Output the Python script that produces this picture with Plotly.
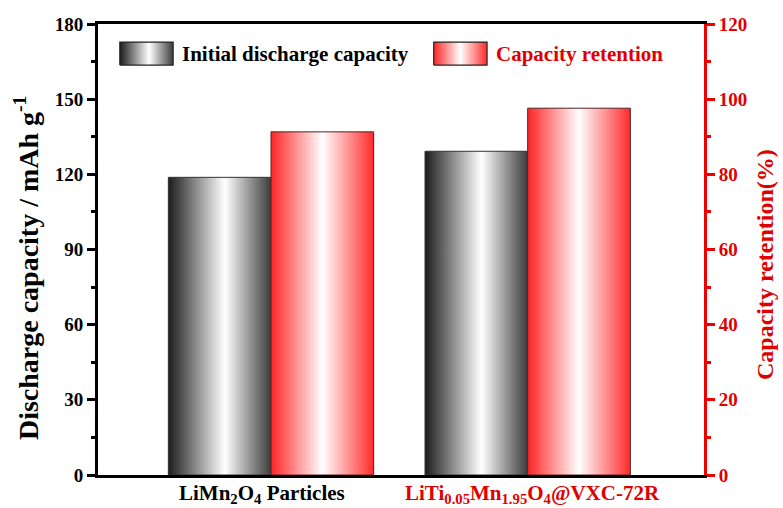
import plotly.graph_objects as go

categories = ["LiMn<sub>2</sub>O<sub>4</sub> Particles",
              "LiTi<sub>0.05</sub>Mn<sub>1.95</sub>O<sub>4</sub>@VXC-72R"]
category_colors = ["black", "#e00000"]
initial_capacity = [118.8, 129.2]      # mAh g-1 (left axis)
capacity_retention = [91.3, 97.6]      # % (right axis)
left_ticks = [0, 30, 60, 90, 120, 150, 180]
right_ticks = [0, 20, 40, 60, 80, 100, 120]

RED = "#ee0000"
RED_TXT = "#e00000"
FONT = "Liberation Serif"
W = 0.40

black_scale = [[0, "#1c1c1c"], [0.55, "#ffffff"], [1, "#3c3c3c"]]
red_scale = [[0, "#ff2424"], [0.5, "#ffffff"], [1, "#ff2a2a"]]

fig = go.Figure()

for i, (cap, ret) in enumerate(zip(initial_capacity, capacity_retention)):
    fig.add_trace(go.Scatter(
        x=[i - W, i - W, i, i, i - W], y=[0, cap, cap, 0, 0],
        mode="lines", fill="toself",
        fillgradient=dict(type="horizontal", colorscale=black_scale),
        line=dict(color="#333333", width=1),
        showlegend=False, hoverinfo="skip"))
    fig.add_trace(go.Scatter(
        x=[i, i, i + W, i + W, i], y=[0, ret, ret, 0, 0],
        mode="lines", fill="toself",
        fillgradient=dict(type="horizontal", colorscale=red_scale),
        line=dict(color="#552222", width=1),
        yaxis="y2", showlegend=False, hoverinfo="skip"))

# legend swatches (in plot-area fraction coordinates)
legend_items = [("Initial discharge capacity", black_scale, "black", 0.036),
                ("Capacity retention", red_scale, RED_TXT, 0.554)]
for name, scale, tcolor, x0 in legend_items:
    x1 = x0 + 0.088
    fig.add_trace(go.Scatter(
        x=[x0, x0, x1, x1, x0], y=[0.909, 0.960, 0.960, 0.909, 0.909],
        mode="lines", fill="toself",
        fillgradient=dict(type="horizontal", colorscale=scale),
        line=dict(color="#222222", width=1.2),
        xaxis="x3", yaxis="y3", showlegend=False, hoverinfo="skip"))
    fig.add_annotation(x=x1 + 0.011, y=0.9345, xref="paper", yref="paper",
                       text="<b>%s</b>" % name, showarrow=False,
                       xanchor="left", yanchor="middle",
                       font=dict(family=FONT, size=21, color=tcolor))

# category labels under the axis
label_shift = [-9, 5]
for i, (lab, col) in enumerate(zip(categories, category_colors)):
    fig.add_annotation(x=i, y=0, xref="x", yref="paper", text="<b>%s</b>" % lab,
                       showarrow=False, xanchor="center", yanchor="top",
                       xshift=label_shift[i], yshift=-4,
                       font=dict(family=FONT, size=21, color=col))

# axis titles
fig.add_annotation(x=-0.117, y=0.459, xref="paper", yref="paper",
                   text="<b>Discharge capacity / mAh g<sup>-1</sup></b>",
                   textangle=-90, showarrow=False, xanchor="center", yanchor="middle",
                   font=dict(family=FONT, size=28, color="black"))
fig.add_annotation(x=1.1007, y=0.4656, xref="paper", yref="paper",
                   text="<b>Capacity retention(%)</b>",
                   textangle=-90, showarrow=False, xanchor="center", yanchor="middle",
                   font=dict(family=FONT, size=24, color=RED_TXT))

fig.update_layout(
    width=783, height=508,
    margin=dict(l=98, r=79, t=24, b=33),
    paper_bgcolor="white", plot_bgcolor="white",
    font=dict(family=FONT, size=18, color="black"),
    xaxis=dict(range=[-0.674, 1.687], showgrid=False, zeroline=False,
               showline=True, linecolor="black", linewidth=3, mirror=True,
               ticks="", showticklabels=False),
    yaxis=dict(range=[0, 180], tickvals=left_ticks, showgrid=False, zeroline=False,
               showline=True, linecolor="black", linewidth=3,
               ticks="outside", ticklen=8, tickwidth=2.5, tickcolor="black",
               minor=dict(ticks="outside", ticklen=4, tickwidth=2.5, dtick=15,
                          tickcolor="black"),
               tickfont=dict(family=FONT, size=19, color="black", weight="bold")),
    yaxis2=dict(range=[0, 120], tickvals=right_ticks, overlaying="y", side="right",
                showgrid=False, zeroline=False,
                showline=True, linecolor=RED, linewidth=3,
                ticks="outside", ticklen=8, tickwidth=2.5, tickcolor=RED,
                minor=dict(ticks="outside", ticklen=4, tickwidth=2.5, dtick=10,
                           tickcolor=RED),
                tickfont=dict(family=FONT, size=19, color=RED_TXT, weight="bold")),
    xaxis3=dict(overlaying="x", range=[0, 1], visible=False),
    yaxis3=dict(overlaying="y", range=[0, 1], visible=False),
)

fig.write_html("out.html")
